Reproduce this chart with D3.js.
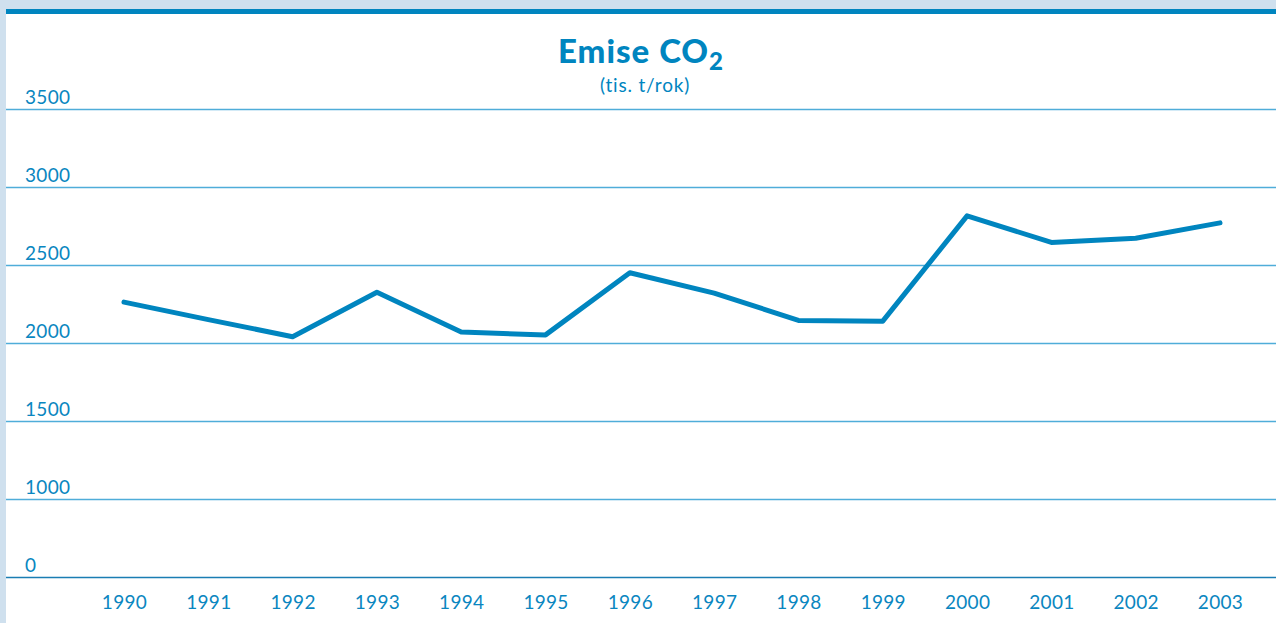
<!DOCTYPE html>
<html>
<head>
<meta charset="utf-8">
<script src="https://cdn.jsdelivr.net/npm/d3@7"></script>
<style>
  html, body { margin: 0; padding: 0; background: #cfe0ee; }
  svg { display: block; font-family: "Lato", "Open Sans", sans-serif; }
</style>
</head>
<body>
<div id="chart"></div>
<script>
// Emise CO2 (tis. t/rok) - line chart

const years = ["1990", "1991", "1992", "1993", "1994", "1995", "1996",
               "1997", "1998", "1999", "2000", "2001", "2002", "2003"];
const emissions = [2262, 2150, 2040, 2325, 2070, 2052, 2450,
                   2320, 2145, 2140, 2815, 2645, 2672, 2770];
// axis is broken: lowest gridline stands for 0 but sits where 500 would be
const yTickValues = [500, 1000, 1500, 2000, 2500, 3000, 3500];
const yTickLabels = ["0", "1000", "1500", "2000", "2500", "3000", "3500"];

const width = 1276;
const height = 623;
const blue = "#0085bf";

const svg = d3.select("#chart")
    .append("svg")
    .attr("width", width)
    .attr("height", height);

// white panel + top bar
svg.append("rect")
    .attr("x", 6).attr("y", 9)
    .attr("width", width - 6).attr("height", height - 9)
    .attr("fill", "#ffffff");
svg.append("rect")
    .attr("x", 6).attr("y", 9)
    .attr("width", width - 6).attr("height", 5)
    .attr("fill", blue);

// scales
const x = d3.scalePoint()
    .domain(years)
    .range([124, 1220]);

const y = d3.scaleLinear()
    .domain([500, 3500])
    .range([577, 109]);

// gridlines
svg.append("g")
    .selectAll("line")
    .data(yTickValues)
    .enter()
    .append("line")
    .attr("x1", 6)
    .attr("x2", width)
    .attr("y1", d => Math.round(y(d)) + 0.5)
    .attr("y2", d => Math.round(y(d)) + 0.5)
    .attr("stroke", d => d === 500 ? "#1a7db3" : "#4fadd9")
    .attr("stroke-width", 1.3);

// y labels sit above the gridlines
svg.append("g")
    .selectAll("text")
    .data(yTickValues)
    .enter()
    .append("text")
    .attr("x", 25)
    .attr("y", d => y(d) - 5)
    .text((d, i) => yTickLabels[i])
    .style("font-size", "19px")
    .style("letter-spacing", "0.3px")
    .style("fill", "#0a86c0");

// x axis labels
const xAxis = svg.append("g")
    .attr("transform", "translate(0,577)")
    .call(d3.axisBottom(x).tickSize(0).tickPadding(19));
xAxis.select(".domain").remove();
xAxis.selectAll("text")
    .style("font-size", "19px")
    .style("letter-spacing", "0.3px")
    .style("font-family", "Lato, 'Open Sans', sans-serif")
    .style("fill", "#0a86c0");

// line
const line = d3.line()
    .x((d, i) => x(years[i]))
    .y(d => y(d));

svg.append("path")
    .datum(emissions)
    .attr("d", line)
    .attr("fill", "none")
    .attr("stroke", blue)
    .attr("stroke-width", 5)
    .attr("stroke-linejoin", "round")
    .attr("stroke-linecap", "round");

// title
const title = svg.append("text")
    .attr("x", 641)
    .attr("y", 63)
    .attr("text-anchor", "middle")
    .style("font-size", "33px")
    .style("font-weight", "900")
    .style("letter-spacing", "1px")
    .style("fill", blue);
title.append("tspan").text("Emise CO");
title.append("tspan")
    .attr("dy", 7)
    .style("font-size", "24px")
    .text("2");

svg.append("text")
    .attr("x", 645)
    .attr("y", 92)
    .attr("text-anchor", "middle")
    .style("font-size", "19px")
    .style("letter-spacing", "0.8px")
    .style("fill", blue)
    .text("(tis. t/rok)");
</script>
</body>
</html>
